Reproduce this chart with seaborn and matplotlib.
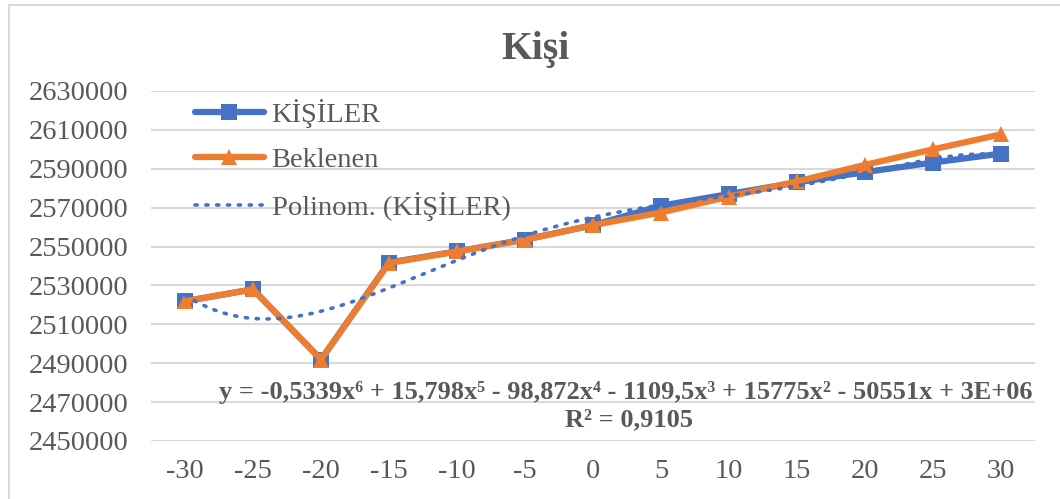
import numpy as np
import pandas as pd
import seaborn as sns
import matplotlib.pyplot as plt
from matplotlib.lines import Line2D

# Veriler
x_degerleri = [-30, -25, -20, -15, -10, -5, 0, 5, 10, 15, 20, 25, 30]
kisiler = [2521900, 2528000, 2491900, 2541800, 2547500, 2553600, 2561000,
           2571000, 2577000, 2583000, 2588300, 2593200, 2597800]
beklenen = [2521900, 2528000, 2491900, 2541500, 2547500, 2553500, 2561000,
            2567500, 2575700, 2583500, 2592000, 2600000, 2607700]
y_ticks = [2450000, 2470000, 2490000, 2510000, 2530000, 2550000,
           2570000, 2590000, 2610000, 2630000]

denklem = ('y = -0,5339x\u2076 + 15,798x\u2075 - 98,872x\u2074 - 1109,5x\u00b3 '
           '+ 15775x\u00b2 - 50551x + 3E+06')
r_kare = 'R\u00b2 = 0,9105'

mavi = '#4472C4'
turuncu = '#ED7D31'
gri = '#595959'

sns.set_style('white')
plt.rcParams['font.family'] = ['Liberation Serif', 'DejaVu Serif']

df = pd.DataFrame({'x': x_degerleri, 'KİŞİLER': kisiler, 'Beklenen': beklenen})

# Polinom eğilim çizgisi (Excel gibi x = 1..n)
idx = np.arange(1, len(kisiler) + 1)
katsayi = np.polyfit(idx, kisiler, 6)
ince = np.linspace(1, len(kisiler), 300)
trend = pd.DataFrame({'x': (ince - 1) * 5 - 30, 'y': np.polyval(katsayi, ince)})

fig = plt.figure(figsize=(10.6, 4.99), dpi=100)
ax = fig.add_axes([151 / 1060, 1 - 441 / 499, (1035 - 151) / 1060, 350 / 499])

sns.lineplot(data=df, x='x', y='KİŞİLER', ax=ax, color=mavi, lw=4.5,
             marker='s', markersize=11, markeredgewidth=0, zorder=3)
sns.lineplot(data=df, x='x', y='Beklenen', ax=ax, color=turuncu, lw=4.5,
             marker='^', markersize=11, markeredgewidth=0, zorder=4)
sns.lineplot(data=trend, x='x', y='y', ax=ax, color=mavi, lw=2.6,
             linestyle=(0, (0.6, 2.4)), dash_capstyle='round', zorder=5)

ax.set_xlim(-32.5, 32.5)
ax.set_ylim(2450000, 2630000)
ax.set_xticks(x_degerleri)
ax.set_xticklabels([str(v) for v in x_degerleri])
ax.set_yticks(y_ticks)
ax.set_yticklabels([str(v) for v in y_ticks])
ax.tick_params(axis='both', length=0, labelsize=20.5, labelcolor=gri)
ax.tick_params(axis='x', pad=13)
ax.tick_params(axis='y', pad=16)
ax.grid(axis='y', color='#D9D9D9', lw=1.5)
ax.set_axisbelow(True)
ax.set_xlabel('')
ax.set_ylabel('')
for s in ax.spines.values():
    s.set_visible(False)

fig.text(536 / 1060, 1 - 49 / 499, 'Kişi', ha='center', va='center',
         fontsize=28.5, fontweight='bold', color=gri)

fig.text(626 / 1060, 1 - 392 / 499, denklem, ha='center', va='center',
         fontsize=19, fontweight='bold', color=gri)
fig.text(629 / 1060, 1 - 420 / 499, r_kare, ha='center', va='center',
         fontsize=19, fontweight='bold', color=gri)

handles = [
    Line2D([], [], color=mavi, lw=4.5, marker='s', markersize=11, markeredgewidth=0),
    Line2D([], [], color=turuncu, lw=4.5, marker='^', markersize=11, markeredgewidth=0),
    Line2D([], [], color=mavi, lw=2.6, linestyle=(0, (0.6, 2.4)), dash_capstyle='round'),
]
ax.legend(handles, ['KİŞİLER', 'Beklenen', 'Polinom. (KİŞİLER)'],
          loc='upper left', bbox_to_anchor=(0.034, 1.018), frameon=False,
          borderpad=0, fontsize=20.5, labelcolor=gri, handlelength=2.4,
          handletextpad=0.28, labelspacing=0.68)

# Dış çerçeve
fig.add_artist(plt.Rectangle((9 / 1060, -0.05), 1.2, 1 - 5 / 499 + 0.05,
                             transform=fig.transFigure, fill=False,
                             edgecolor='#D9D9D9', lw=1.5))

fig.savefig('out.png', dpi=100)
